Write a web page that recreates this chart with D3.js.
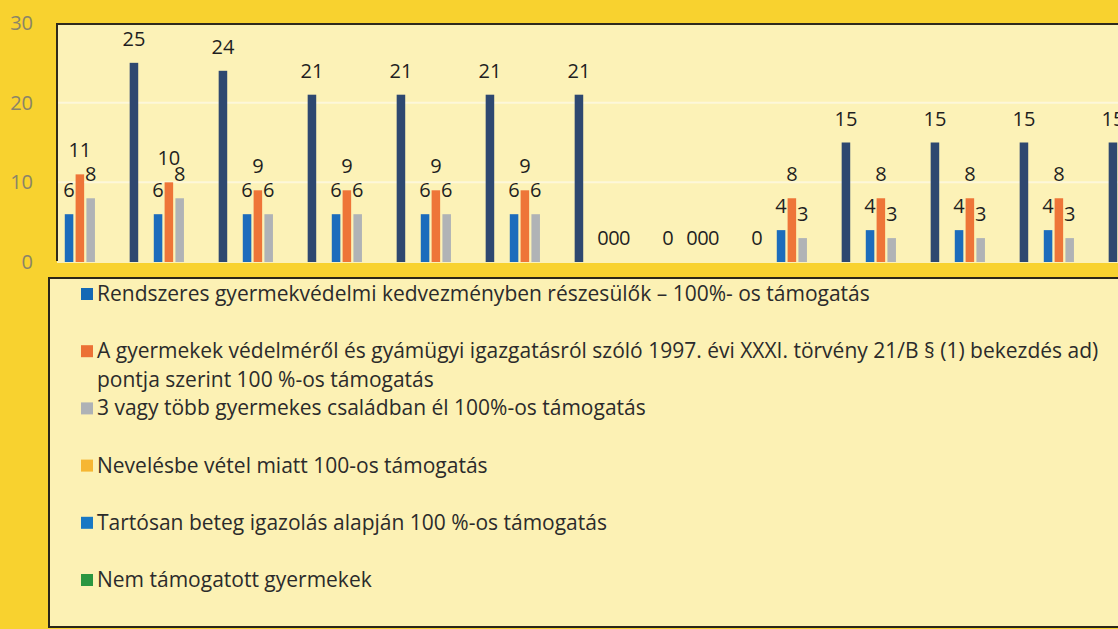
<!DOCTYPE html>
<html>
<head>
<meta charset="utf-8">
<script src="https://cdn.jsdelivr.net/npm/d3@7"></script>
<style>
  body { margin: 0; background: #f8d22f; }
  svg { display: block; font-family: "Open Sans", sans-serif; }
</style>
</head>
<body>
<div id="chart"></div>
<script>
// categories (12 months, no visible axis labels)
const categories = ["1", "2", "3", "4", "5", "6", "7", "8", "9", "10", "11", "12"];
const yTicks = [0, 10, 20, 30];

// series values (null = no value / no label)
const rendszeres = [6, 6, 6, 6, 6, 6, 0, 0, 4, 4, 4, 4];
const vedelmi = [11, 10, 9, 9, 9, 9, 0, 0, 8, 8, 8, 8];
const harom = [8, 8, 6, 6, 6, 6, 0, 0, 3, 3, 3, 3];
const neveles = [null, null, null, null, null, null, null, null, null, null, null, null];
const tartosan = [null, null, null, null, null, null, null, null, null, null, null, null];
const nemTamogatott = [null, null, null, null, null, null, null, null, null, null, null, null];
const osszes = [25, 24, 21, 21, 21, 21, 0, 0, 15, 15, 15, 15];

const seriesNames = [
  "Rendszeres gyermekvédelmi kedvezményben részesülők – 100%- os támogatás",
  "A gyermekek védelméről és gyámügyi igazgatásról szóló 1997. évi XXXI. törvény 21/B § (1) bekezdés ad)\npontja szerint 100 %-os támogatás",
  "3 vagy több gyermekes családban él 100%-os támogatás",
  "Nevelésbe vétel miatt 100-os támogatás",
  "Tartósan beteg igazolás alapján 100 %-os támogatás",
  "Nem támogatott gyermekek",
  "Összesen"
];
const seriesValues = [rendszeres, vedelmi, harom, neveles, tartosan, nemTamogatott, osszes];
const barColors = ["#1c6cbc", "#ee7538", "#b0b3b6", "#f6b632", "#1878c4", "#2a9640", "#2e4870"];
const legendColors = ["#1469b5", "#ec7135", "#aeb2b6", "#f6b632", "#1878c4", "#2a9640"];

var width = 1118, height = 629;

var svg = d3.select("#chart")
    .append("svg")
    .attr("width", width)
    .attr("height", height);

// outer yellow
svg.append("rect")
    .attr("width", width).attr("height", height)
    .attr("fill", "#f8d22f");

// plot area
var plotLeft = 57, plotTop = 24, plotBottom = 263;
svg.append("rect")
    .attr("x", plotLeft).attr("y", plotTop)
    .attr("width", width - plotLeft).attr("height", plotBottom - plotTop)
    .attr("fill", "#fcf2b7");

var x = d3.scaleBand()
    .domain(categories)
    .range([plotLeft, plotLeft + 12 * 89]);

var xs = d3.scaleBand()
    .domain(d3.range(seriesValues.length))
    .range([0, x.bandwidth()])
    .paddingInner(0.21)
    .paddingOuter(0.72);

var y = d3.scaleLinear()
    .domain([0, 30])
    .range([262, 23]);

// faint gridlines
svg.append("g")
    .selectAll("line")
    .data([10, 20])
    .join("line")
    .attr("x1", plotLeft).attr("x2", width)
    .attr("y1", d => y(d)).attr("y2", d => y(d))
    .attr("stroke", "#fdf7da")
    .attr("stroke-width", 2);

// plot border (top + left)
svg.append("path")
    .attr("d", `M${plotLeft},${plotBottom - 2}V${plotTop}H${width}`)
    .attr("fill", "none")
    .attr("stroke", "#2f2a1c")
    .attr("stroke-width", 2);

// y axis labels
var yAxis = svg.append("g")
    .attr("transform", "translate(36,0)")
    .call(d3.axisLeft(y).tickValues(yTicks).tickSize(0).tickPadding(3));
yAxis.select(".domain").remove();
yAxis.selectAll("text")
    .attr("font-family", "Open Sans, sans-serif")
    .attr("font-size", 20)
    .attr("fill", "#8a8468");

// bars
var flat = [];
seriesValues.forEach(function (vals, s) {
    vals.forEach(function (v, i) {
        if (v !== null) flat.push({ s: s, cat: categories[i], v: v });
    });
});

svg.append("g")
    .selectAll("rect")
    .data(flat)
    .join("rect")
    .attr("x", d => x(d.cat) + xs(d.s))
    .attr("y", d => y(d.v))
    .attr("width", xs.bandwidth())
    .attr("height", d => y(0) - y(d.v))
    .attr("fill", d => barColors[d.s]);

// data labels
svg.append("g")
    .selectAll("text")
    .data(flat)
    .join("text")
    .attr("x", d => x(d.cat) + xs(d.s) + xs.bandwidth() / 2)
    .attr("y", d => y(d.v) - 17)
    .attr("text-anchor", "middle")
    .attr("font-size", 20)
    .attr("fill", "#1f1f1f")
    .text(d => d.v);

// legend box
var legTop = 278, legLeft = 49;
svg.append("rect")
    .attr("x", legLeft).attr("y", legTop)
    .attr("width", width - legLeft + 5).attr("height", 627 - legTop)
    .attr("fill", "#fcf1b4")
    .attr("stroke", "#2a2618")
    .attr("stroke-width", 2);

var legend = svg.append("g")
    .selectAll("g")
    .data(seriesNames.slice(0, 6))
    .join("g")
    .attr("transform", (d, i) => `translate(81,${301 + i * 57.2})`);

legend.append("rect")
    .attr("x", 0).attr("y", -13)
    .attr("width", 12).attr("height", 12)
    .attr("fill", (d, i) => legendColors[i]);

legend.append("text")
    .attr("x", 16)
    .attr("font-size", 21)
    .attr("fill", "#2b2b2b")
    .selectAll("tspan")
    .data(d => d.split("\n"))
    .join("tspan")
    .attr("x", 16)
    .attr("dy", (d, i) => i === 0 ? 0 : 29)
    .text(d => d);
</script>
</body>
</html>
